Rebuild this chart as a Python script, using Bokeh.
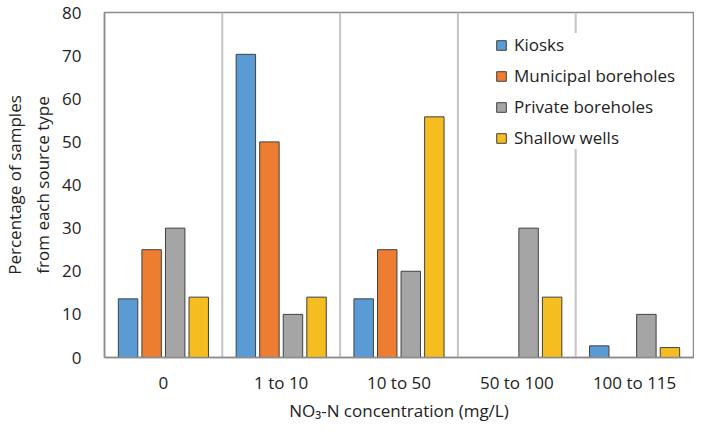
from bokeh.plotting import figure
from bokeh.models import ColumnDataSource, FactorRange, Span, Legend, LegendItem, Range1d
from bokeh.transform import dodge
from bokeh.embed import file_html
from bokeh.resources import INLINE

categories = ["0", "1 to 10", "10 to 50", "50 to 100", "100 to 115"]
series = ["Kiosks", "Municipal boreholes", "Private boreholes", "Shallow wells"]
kiosks = [13.6, 70.3, 13.6, 0, 2.7]
municipal = [25, 50, 25, 0, 0]
private = [30, 10, 20, 30, 10]
shallow = [14, 14, 55.8, 14, 2.3]
colors = ["#5B9BD5", "#ED7D31", "#A5A5A5", "#F5BD1F"]
y_ticks = [0, 10, 20, 30, 40, 50, 60, 70, 80]

source = ColumnDataSource(dict(cat=categories, k=kiosks, m=municipal, p=private, s=shallow))

FONT = "Open Sans"
FS = "17px"
TXT = "#222222"
p = figure(x_range=FactorRange(*categories, range_padding=0), y_range=Range1d(0, 80),
           width=694, height=424, output_backend="svg", toolbar_location=None,
           min_border_left=87, min_border_right=1, min_border_top=12, min_border_bottom=0)
p.x_range.factor_padding = 0

for loc in [1, 2, 3, 4]:
    p.add_layout(Span(location=loc, dimension="height", line_color="#C4C4C4", line_width=2, level="underlay"))

offsets = [-0.3, -0.1, 0.1, 0.3]
cols = ["k", "m", "p", "s"]
items = []
for name, col, off, c in zip(series, cols, offsets, colors):
    r = p.vbar(x=dodge("cat", off, range=p.x_range), top=col, width=0.165, source=source,
               fill_color=c, line_color="#404040", line_width=1)
    items.append(LegendItem(label=name, renderers=[r]))

legend = Legend(items=items, location=(391, 208), border_line_color=None,
                background_fill_color="white", background_fill_alpha=1,
                label_text_font=FONT, label_text_font_size=FS, label_text_color=TXT,
                glyph_width=12, glyph_height=12, label_standoff=7, spacing=8, label_height=20,
                padding=10, margin=0)
p.add_layout(legend)

p.grid.visible = False
p.outline_line_color = "#8C8C8C"
p.outline_line_width = 1.5

p.yaxis.ticker = y_ticks
p.yaxis.major_tick_line_color = None
p.yaxis.minor_tick_line_color = None
p.yaxis.axis_line_color = "#8C8C8C"
p.yaxis.axis_line_width = 1.5
p.yaxis.major_label_text_font = FONT
p.yaxis.major_label_text_font_size = FS
p.yaxis.major_label_text_color = TXT
p.yaxis.major_label_standoff = 17
p.yaxis.axis_label = "Percentage of samples\nfrom each source type"
p.yaxis.axis_label_text_font = FONT
p.yaxis.axis_label_text_font_size = FS
p.yaxis.axis_label_text_font_style = "normal"
p.yaxis.axis_label_text_color = TXT
p.yaxis.axis_label_standoff = 5

p.xaxis.major_tick_line_color = None
p.xaxis.minor_tick_line_color = None
p.xaxis.axis_line_color = "#8C8C8C"
p.xaxis.axis_line_width = 1.5
p.xaxis.major_label_text_font = FONT
p.xaxis.major_label_text_font_size = FS
p.xaxis.major_label_text_color = TXT
p.xaxis.major_label_standoff = 7
p.xaxis.axis_label = "NO₃-N concentration (mg/L)"
p.xaxis.axis_label_text_font = FONT
p.xaxis.axis_label_text_font_size = FS
p.xaxis.axis_label_text_font_style = "normal"
p.xaxis.axis_label_text_color = TXT
p.xaxis.axis_label_standoff = 2

open("out.html", "w").write(file_html(p, INLINE))
